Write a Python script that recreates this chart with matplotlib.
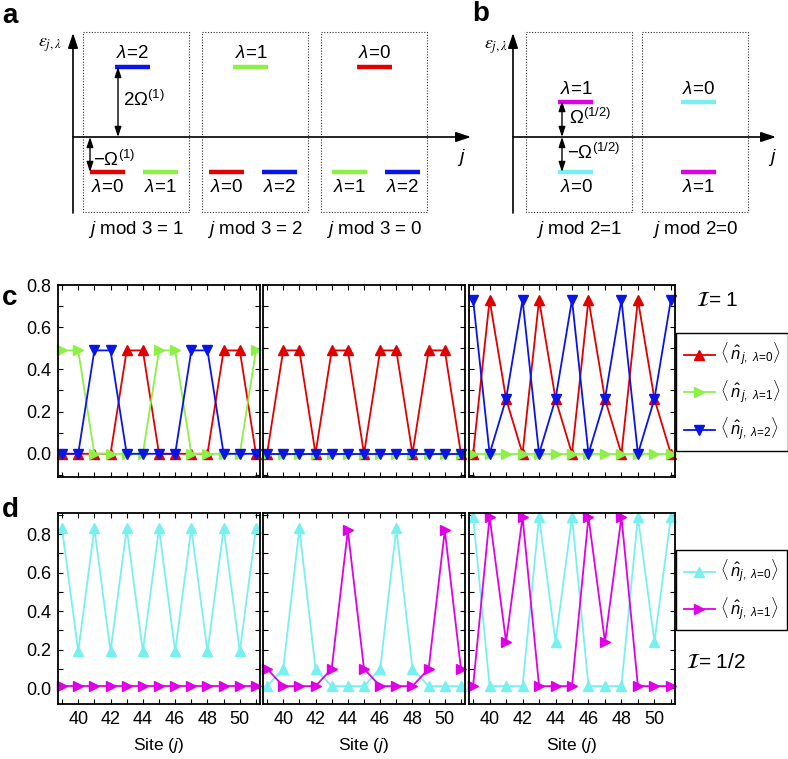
import numpy as np
import matplotlib
matplotlib.use('Agg')
import matplotlib.pyplot as plt
from matplotlib.ticker import MultipleLocator
from matplotlib.patches import Rectangle
from matplotlib.lines import Line2D

plt.rcParams['font.family'] = ['Liberation Sans', 'DejaVu Sans']
plt.rcParams['mathtext.fontset'] = 'custom'
plt.rcParams['mathtext.rm'] = 'Liberation Sans'
plt.rcParams['mathtext.it'] = 'Liberation Sans:italic'
plt.rcParams['mathtext.bf'] = 'Liberation Sans:bold'

# ---------------- data ----------------
sites = [39, 40, 41, 42, 43, 44, 45, 46, 47, 48, 49, 50, 51]
xticks = [40, 42, 44, 46, 48, 50]

# panel c (I = 1): occupations of lambda = 0, 1, 2
c1_l0 = [0.0, 0.0, 0.0, 0.0, 0.49, 0.49, 0.0, 0.0, 0.0, 0.0, 0.49, 0.49, 0.0]
c1_l1 = [0.49, 0.49, 0.0, 0.0, 0.0, 0.0, 0.49, 0.49, 0.0, 0.0, 0.0, 0.0, 0.49]
c1_l2 = [0.0, 0.0, 0.49, 0.49, 0.0, 0.0, 0.0, 0.0, 0.49, 0.49, 0.0, 0.0, 0.0]

c2_l0 = [0.0, 0.49, 0.49, 0.0, 0.49, 0.49, 0.0, 0.49, 0.49, 0.0, 0.49, 0.49, 0.0]
c2_l1 = [0.0] * 13
c2_l2 = [0.0] * 13

c3_l0 = [0.0, 0.73, 0.26, 0.0, 0.73, 0.26, 0.0, 0.73, 0.26, 0.0, 0.73, 0.26, 0.0]
c3_l1 = [0.0] * 13
c3_l2 = [0.73, 0.0, 0.26, 0.73, 0.0, 0.26, 0.73, 0.0, 0.26, 0.73, 0.0, 0.26, 0.73]

# panel d (I = 1/2): occupations of lambda = 0, 1
d1_l0 = [0.83, 0.19, 0.83, 0.19, 0.83, 0.19, 0.83, 0.19, 0.83, 0.19, 0.83, 0.19, 0.83]
d1_l1 = [0.01] * 13

d2_l0 = [0.01, 0.10, 0.83, 0.10, 0.01, 0.01, 0.01, 0.10, 0.83, 0.10, 0.01, 0.01, 0.01]
d2_l1 = [0.10, 0.01, 0.01, 0.01, 0.10, 0.82, 0.10, 0.01, 0.01, 0.01, 0.10, 0.82, 0.10]

d3_l0 = [0.89, 0.01, 0.01, 0.01, 0.89, 0.24, 0.89, 0.01, 0.01, 0.01, 0.89, 0.24, 0.89]
d3_l1 = [0.01, 0.89, 0.24, 0.89, 0.01, 0.01, 0.01, 0.89, 0.24, 0.89, 0.01, 0.01, 0.01]

# schematic energies (units of Omega)
a_boxes = ['$j$ mod 3 = 1', '$j$ mod 3 = 2', '$j$ mod 3 = 0']
a_levels = [  # (box, lambda, energy, offset in box)
    (0, 2, 2.0, 49.5), (0, 0, -1.0, 24.5), (0, 1, -1.0, 77.5),
    (1, 1, 2.0, 49.0), (1, 0, -1.0, 24.5), (1, 2, -1.0, 77.5),
    (2, 0, 2.0, 53.5), (2, 1, -1.0, 28.5), (2, 2, -1.0, 81.5),
]
b_boxes = ['$j$ mod 2=1', '$j$ mod 2=0']
b_levels = [
    (0, 1, 1.0, 50.0), (0, 0, -1.0, 50.0),
    (1, 0, 1.0, 56.5), (1, 1, -1.0, 56.5),
]

RED = '#e00000'
GREEN = '#8cf046'
BLUE = '#0a14e6'
CYAN = '#78f0f0'
MAG = '#e000e6'
col3 = {0: RED, 1: GREEN, 2: BLUE}
col2 = {0: CYAN, 1: MAG}

W, H = 788, 759
fig = plt.figure(figsize=(W / 100, H / 100), dpi=100)

# ---------------- overlay for schematics ----------------
ov = fig.add_axes([0, 0, 1, 1])
ov.set_xlim(0, W)
ov.set_ylim(H, 0)
ov.axis('off')

y0 = 137.0
scale = 35.0
arrow_kw = dict(arrowstyle='-|>,head_length=0.9,head_width=0.3', color='black',
                lw=1.2, shrinkA=0, shrinkB=0)
darrow_kw = dict(arrowstyle='<|-|>,head_length=0.6,head_width=0.2', color='black',
                 lw=1.0, shrinkA=0, shrinkB=0)

# panel a
ov.text(2, 16, 'a', fontsize=20, fontweight='bold', va='center', ha='left')
ov.annotate('', xy=(73, 33), xytext=(73, 213), arrowprops=arrow_kw)
ov.annotate('', xy=(471, y0), xytext=(73, y0), arrowprops=arrow_kw)
ov.text(50, 45, r'$\varepsilon_{j,\lambda}$', fontsize=13, ha='center', va='center',
        math_fontfamily='stix')
ov.text(461, 158, '$j$', fontsize=14, ha='center', va='center')
a_x0 = [83, 202, 321]
for i, lab in enumerate(a_boxes):
    ov.add_patch(Rectangle((a_x0[i], 32), 106, 180, fill=False, ls=(0, (1, 1.5)),
                           lw=0.8, ec='#333333'))
    ov.text(a_x0[i] + 53, 229, lab, fontsize=13.5, ha='center', va='center')
for bx, lam, e, off in a_levels:
    cx = a_x0[bx] + off
    y = y0 - scale * e
    ov.plot([cx - 17.5, cx + 17.5], [y, y], color=col3[lam], lw=3.2, solid_capstyle='butt')
    ty = y - 13 if e > 0 else y + 16
    ov.text(cx, ty, r'$\lambda$=%d' % lam, fontsize=13.5, ha='center', va='center')
ov.annotate('', xy=(118, 67), xytext=(118, y0), arrowprops=darrow_kw)
ov.text(123, 100, r'2$\Omega^{(1)}$', fontsize=13.5, ha='left', va='center')
ov.annotate('', xy=(90, 172), xytext=(90, y0), arrowprops=darrow_kw)
ov.text(93, 160, r'$-\Omega^{(1)}$', fontsize=13.5, ha='left', va='center')

# panel b
ov.text(472, 14, 'b', fontsize=20, fontweight='bold', va='center', ha='left')
ov.annotate('', xy=(513, 33), xytext=(513, 213), arrowprops=arrow_kw)
ov.annotate('', xy=(776, y0), xytext=(513, y0), arrowprops=arrow_kw)
ov.text(496, 47, r'$\varepsilon_{j,\lambda}$', fontsize=13, ha='center', va='center',
        math_fontfamily='stix')
ov.text(772, 158, '$j$', fontsize=14, ha='center', va='center')
b_x0 = [526, 642]
for i, lab in enumerate(b_boxes):
    ov.add_patch(Rectangle((b_x0[i], 32), 106, 180, fill=False, ls=(0, (1, 1.5)),
                           lw=0.8, ec='#333333'))
    ov.text(b_x0[i] + 53, 229, lab, fontsize=13.5, ha='center', va='center')
for bx, lam, e, off in b_levels:
    cx = b_x0[bx] + off
    y = y0 - scale * e
    ov.plot([cx - 17.5, cx + 17.5], [y, y], color=col2[lam], lw=3.2, solid_capstyle='butt')
    ty = y - 13 if e > 0 else y + 16
    ov.text(cx, ty, r'$\lambda$=%d' % lam, fontsize=13.5, ha='center', va='center')
ov.annotate('', xy=(562, 101), xytext=(562, y0), arrowprops=darrow_kw)
ov.annotate('', xy=(562, 172), xytext=(562, y0), arrowprops=darrow_kw)
ov.text(569, 118, r'$\Omega^{(1/2)}$', fontsize=13.5, ha='left', va='center')
ov.text(567, 153, r'$-\Omega^{(1/2)}$', fontsize=13.5, ha='left', va='center')

# panel letters c, d and I labels
ov.text(2, 298, 'c', fontsize=20, fontweight='bold', va='center', ha='left')
ov.text(2, 510, 'd', fontsize=20, fontweight='bold', va='center', ha='left')
ov.text(696, 300, r'$\mathcal{I}$= 1', fontsize=15, ha='left', va='center',
        math_fontfamily='stix')
ov.text(686, 663, r'$\mathcal{I}$= 1/2', fontsize=15, ha='left', va='center',
        math_fontfamily='stix')

# ---------------- data axes ----------------
lefts = [58, 263, 469]
widths = [202, 202, 206]


def fig_rect(x, top, w, bottom):
    return [x / W, 1 - bottom / H, w / W, (bottom - top) / H]


def style(ax, ylim, show_y, show_x):
    ax.set_xlim(38.75, 51.25)
    ax.set_ylim(*ylim)
    ax.set_xticks(xticks)
    ax.xaxis.set_minor_locator(MultipleLocator(1))
    ax.yaxis.set_major_locator(MultipleLocator(0.2))
    ax.yaxis.set_minor_locator(MultipleLocator(0.1))
    ax.tick_params(which='both', direction='in', top=True, right=True,
                   labelsize=13, width=0.8)
    ax.tick_params(which='major', length=3.5, pad=5)
    ax.tick_params(which='minor', length=3.5)
    for s in ax.spines.values():
        s.set_linewidth(1.3)
    if not show_y:
        ax.tick_params(labelleft=False)
    else:
        ax.set_yticks([0.0, 0.2, 0.4, 0.6, 0.8])
        ax.set_yticklabels(['0.0', '0.2', '0.4', '0.6', '0.8'])
    if not show_x:
        ax.tick_params(labelbottom=False)
    else:
        ax.set_xlabel('Site ($j$)', fontsize=12.5, labelpad=6)


mk = dict(markersize=6.5, lw=1.3, clip_on=False)
c_data = [(c1_l0, c1_l1, c1_l2), (c2_l0, c2_l1, c2_l2), (c3_l0, c3_l1, c3_l2)]
for i, (r, g, b) in enumerate(c_data):
    ax = fig.add_axes(fig_rect(lefts[i], 285, widths[i], 477))
    ax.plot(sites, r, color=RED, marker='^', **mk)
    ax.plot(sites, g, color=GREEN, marker='>', **mk)
    ax.plot(sites, b, color=BLUE, marker='v', **mk)
    style(ax, (-0.11, 0.8), i == 0, False)

d_data = [(d1_l0, d1_l1), (d2_l0, d2_l1), (d3_l0, d3_l1)]
for i, (cy, mg) in enumerate(d_data):
    ax = fig.add_axes(fig_rect(lefts[i], 513, widths[i], 704))
    ax.plot(sites, cy, color=CYAN, marker='^', **mk)
    ax.plot(sites, mg, color=MAG, marker='>', **mk)
    style(ax, (-0.083, 0.91), i == 0, True)

# legends
hc = [Line2D([], [], color=RED, marker='^', markersize=6.5, lw=1.3),
      Line2D([], [], color=GREEN, marker='>', markersize=6.5, lw=1.3),
      Line2D([], [], color=BLUE, marker='v', markersize=6.5, lw=1.3)]
lc = [r'$\langle\,\hat{n}_{\,j,\ \lambda\!=\!0}\rangle$',
      r'$\langle\,\hat{n}_{\,j,\ \lambda\!=\!1}\rangle$',
      r'$\langle\,\hat{n}_{j,\ \lambda\!=\!2}\rangle$']
leg_kw = dict(loc='upper left', fontsize=12, frameon=True, fancybox=False,
              edgecolor='black', framealpha=1, handlelength=1.9, handletextpad=0.3,
              borderpad=0.45, labelspacing=0.6, borderaxespad=0)
l1 = fig.legend(handles=hc, labels=lc, bbox_to_anchor=(676 / W, 1 - 333 / H), **leg_kw)
l1.get_frame().set_linewidth(1.0)

hd = [Line2D([], [], color=CYAN, marker='^', markersize=6.5, lw=1.3),
      Line2D([], [], color=MAG, marker='>', markersize=6.5, lw=1.3)]
ld = [r'$\langle\,\hat{n}_{j,\ \lambda\!=\!0}\rangle$',
      r'$\langle\,\hat{n}_{j,\ \lambda\!=\!1}\rangle$']
l2 = fig.legend(handles=hd, labels=ld, bbox_to_anchor=(676 / W, 1 - 550 / H), **leg_kw)
l2.get_frame().set_linewidth(1.0)

fig.savefig('out.png', dpi=100)
